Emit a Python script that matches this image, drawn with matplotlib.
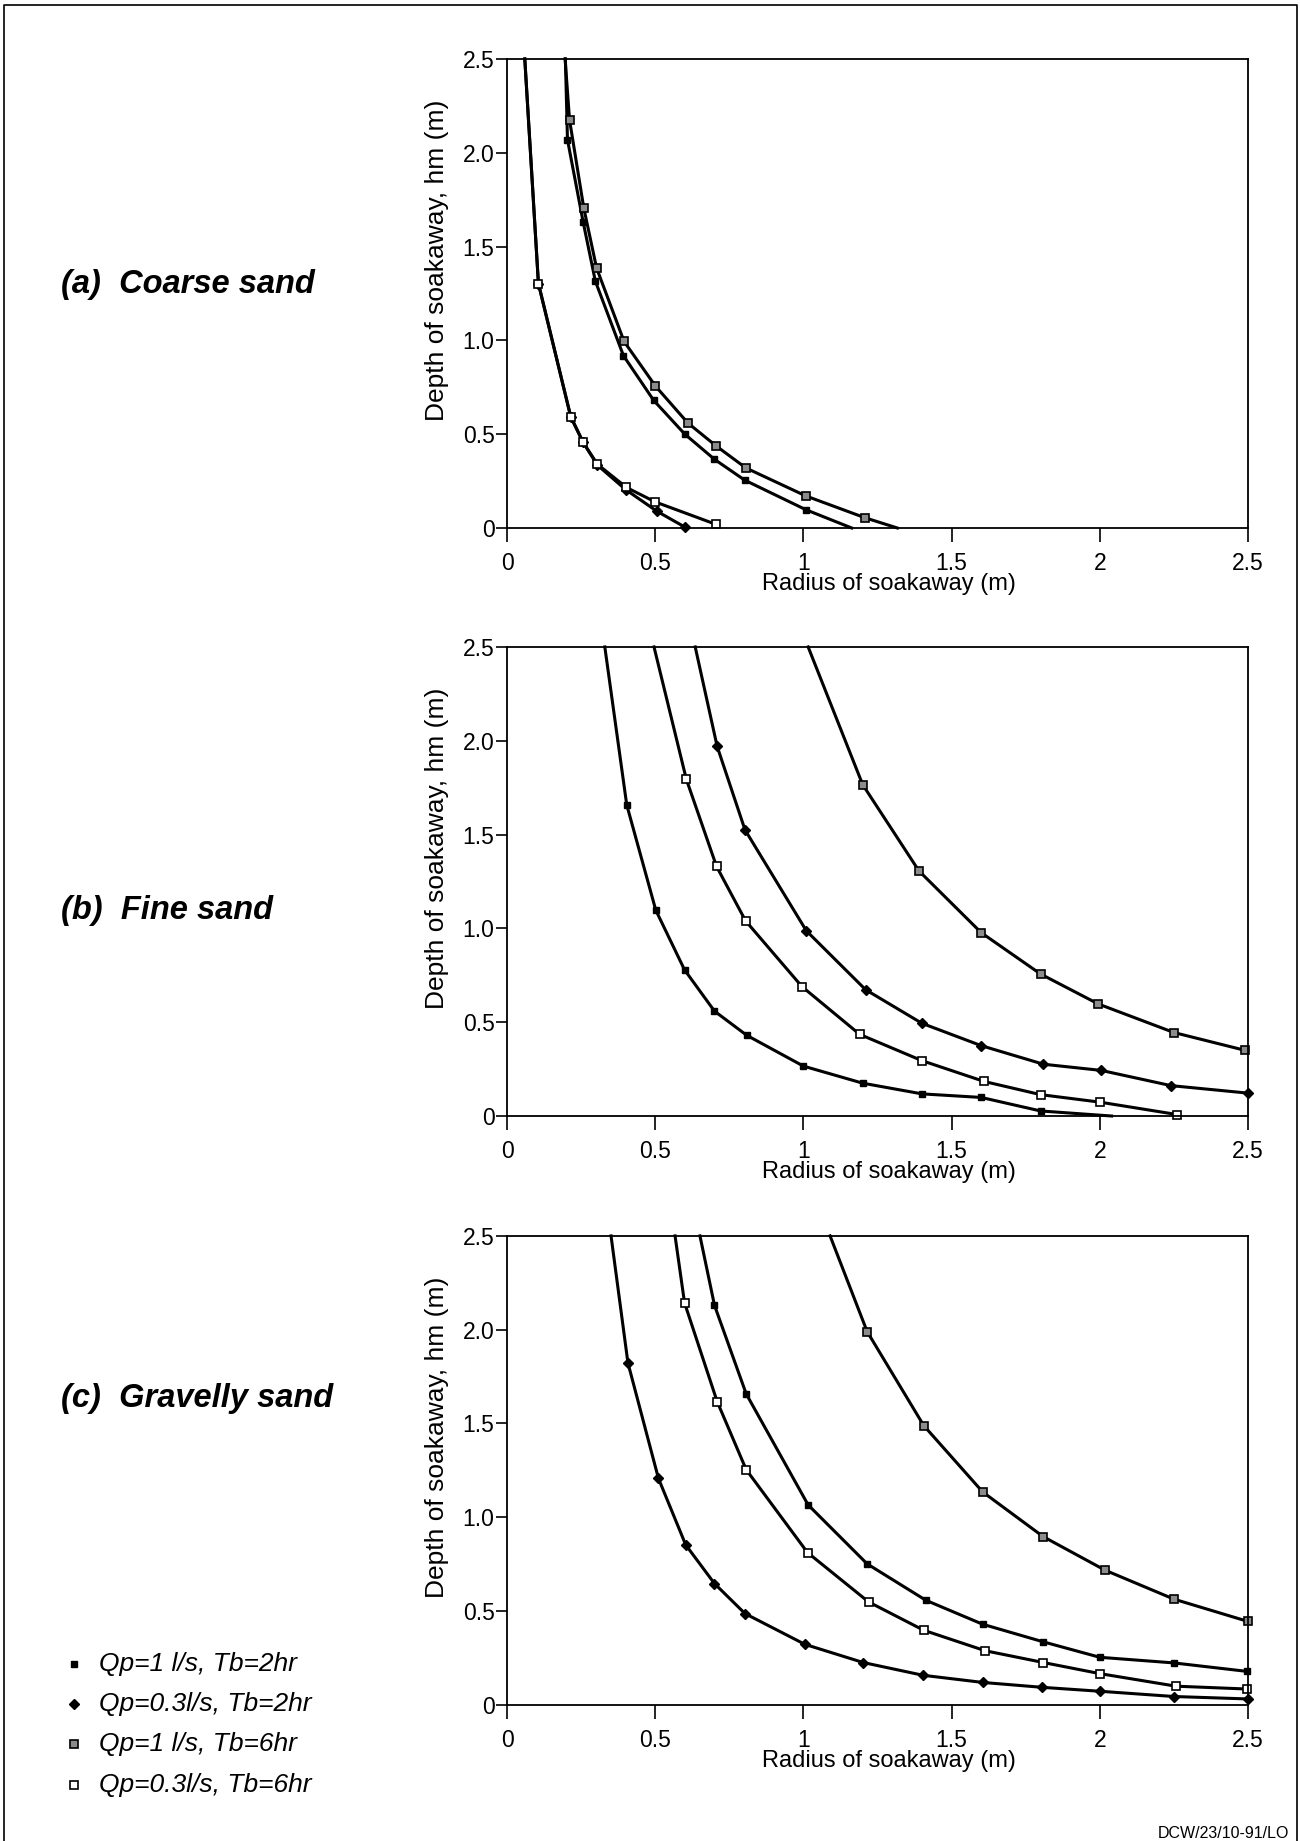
import matplotlib
matplotlib.use("Agg")
import matplotlib.pyplot as plt
from matplotlib.lines import Line2D

plt.rcParams['font.family'] = ['Liberation Sans', 'DejaVu Sans']

# series labels (legend order)
labels = ["Qp=1 l/s, Tb=2hr", "Qp=0.3l/s, Tb=2hr", "Qp=1 l/s, Tb=6hr", "Qp=0.3l/s, Tb=6hr"]

# (a) Coarse sand -- radius (m) / depth (m)
a_q1_t2_x = [0.197, 0.204, 0.257, 0.298, 0.393, 0.495, 0.600, 0.700, 0.802, 1.009, 1.163]
a_q1_t2_y = [2.5, 2.07, 1.63, 1.316, 0.918, 0.68, 0.50, 0.366, 0.255, 0.097, 0.0]
a_q03_t2_x = [0.06, 0.106, 0.215, 0.257, 0.305, 0.40, 0.505, 0.600]
a_q03_t2_y = [2.5, 1.303, 0.593, 0.456, 0.335, 0.205, 0.09, 0.005]
a_q1_t6_x = [0.196, 0.211, 0.259, 0.302, 0.395, 0.501, 0.61, 0.705, 0.806, 1.008, 1.207, 1.317]
a_q1_t6_y = [2.5, 2.175, 1.706, 1.387, 0.994, 0.756, 0.56, 0.438, 0.32, 0.171, 0.055, 0.0]
a_q03_t6_x = [0.06, 0.106, 0.215, 0.257, 0.305, 0.403, 0.50, 0.704]
a_q03_t6_y = [2.5, 1.303, 0.593, 0.456, 0.34, 0.216, 0.139, 0.02]

# (b) Fine sand
b_q1_t2_x = [0.33, 0.404, 0.502, 0.599, 0.70, 0.809, 1.0, 1.2, 1.40, 1.6, 1.8, 2.04]
b_q1_t2_y = [2.5, 1.658, 1.097, 0.779, 0.559, 0.43, 0.266, 0.175, 0.118, 0.099, 0.027, 0.0]
b_q03_t2_x = [0.635, 0.709, 0.803, 1.01, 1.21, 1.40, 1.60, 1.81, 2.005, 2.24, 2.50]
b_q03_t2_y = [2.5, 1.97, 1.525, 0.987, 0.673, 0.494, 0.375, 0.276, 0.243, 0.162, 0.122]
b_q1_t6_x = [1.016, 1.2, 1.39, 1.60, 1.80, 1.995, 2.25, 2.49]
b_q1_t6_y = [2.5, 1.766, 1.306, 0.977, 0.757, 0.597, 0.445, 0.35]
b_q03_t6_x = [0.496, 0.605, 0.707, 0.805, 0.995, 1.19, 1.40, 1.61, 1.80, 2.0, 2.26]
b_q03_t6_y = [2.5, 1.795, 1.33, 1.04, 0.69, 0.435, 0.295, 0.184, 0.114, 0.074, 0.008]

# (c) Gravelly sand
c_q1_t2_x = [0.651, 0.70, 0.807, 1.016, 1.215, 1.413, 1.605, 1.81, 2.0, 2.25, 2.496]
c_q1_t2_y = [2.5, 2.13, 1.658, 1.066, 0.752, 0.558, 0.43, 0.336, 0.254, 0.224, 0.179]
c_q03_t2_x = [0.351, 0.408, 0.511, 0.603, 0.70, 0.803, 1.005, 1.202, 1.404, 1.605, 1.805, 2.0, 2.25, 2.5]
c_q03_t2_y = [2.5, 1.823, 1.207, 0.853, 0.647, 0.487, 0.323, 0.226, 0.158, 0.12, 0.094, 0.073, 0.045, 0.032]
c_q1_t6_x = [1.09, 1.215, 1.406, 1.605, 1.809, 2.018, 2.25, 2.5]
c_q1_t6_y = [2.5, 1.99, 1.489, 1.135, 0.897, 0.718, 0.564, 0.445]
c_q03_t6_x = [0.567, 0.599, 0.709, 0.807, 1.014, 1.22, 1.406, 1.613, 1.81, 2.0, 2.257, 2.495]
c_q03_t6_y = [2.5, 2.143, 1.617, 1.254, 0.812, 0.549, 0.398, 0.289, 0.226, 0.167, 0.10, 0.085]

xticks = [0, 0.5, 1, 1.5, 2, 2.5]
xticklabels = ["0", "0.5", "1", "1.5", "2", "2.5"]
yticks = [0, 0.5, 1.0, 1.5, 2.0, 2.5]
yticklabels = ["0", "0.5", "1.0", "1.5", "2.0", "2.5"]

# marker per series (same order as labels)
marks = [
    dict(marker='s', ms=4.5, mfc='black', mec='black'),
    dict(marker='D', ms=5, mfc='black', mec='black'),
    dict(marker='s', ms=5.5, mfc='0.55', mec='black', mew=1.2),
    dict(marker='s', ms=5.5, mfc='white', mec='black', mew=1.2),
]

panels = [
    ("(a)  Coarse sand", 0.8452, 0.7132,
     [(a_q1_t2_x, a_q1_t2_y), (a_q03_t2_x, a_q03_t2_y), (a_q1_t6_x, a_q1_t6_y), (a_q03_t6_x, a_q03_t6_y)]),
    ("(b)  Fine sand", 0.5055, 0.3938,
     [(b_q1_t2_x, b_q1_t2_y), (b_q03_t2_x, b_q03_t2_y), (b_q1_t6_x, b_q1_t6_y), (b_q03_t6_x, b_q03_t6_y)]),
    ("(c)  Gravelly sand", 0.2405, 0.0739,
     [(c_q1_t2_x, c_q1_t2_y), (c_q03_t2_x, c_q03_t2_y), (c_q1_t6_x, c_q1_t6_y), (c_q03_t6_x, c_q03_t6_y)]),
]

fig = plt.figure(figsize=(13, 18.41), dpi=100)

for title, ty, bottom, series in panels:
    ax = fig.add_axes([0.390, bottom, 0.570, 0.2548])
    for (xs, ys), mk in zip(series, marks):
        # markers only on the computed points, not where the curve leaves the box
        idx = [i for i, v in enumerate(ys) if 0 < v < 2.5]
        ax.plot(xs, ys, color='black', lw=2.2, markevery=idx, clip_on=False, **mk)
    ax.set_xlim(0, 2.5)
    ax.set_ylim(0, 2.5)
    ax.set_xticks(xticks)
    ax.set_xticklabels(xticklabels)
    ax.set_yticks(yticks)
    ax.set_yticklabels(yticklabels)
    ax.tick_params(axis='x', direction='out', length=10, width=1.2, pad=7, labelsize=16.5)
    ax.tick_params(axis='y', direction='out', length=8, width=1.2, pad=1, labelsize=16.5)
    for sp in ax.spines.values():
        sp.set_linewidth(1.3)
    ax.set_xlabel("Radius of soakaway (m)", fontsize=17)
    ax.xaxis.set_label_coords(0.515, -0.095)
    ax.set_ylabel("Depth of soakaway, hm (m)", fontsize=19)
    ax.yaxis.set_label_coords(-0.078, 0.57)
    fig.text(0.047, ty, title, fontsize=23.5, fontweight='bold', fontstyle='italic', va='center')

# legend in the lower left corner
leg_y = [1664, 1704, 1744, 1785]
for lab, mk, yp in zip(labels, marks, leg_y):
    yf = 1 - yp / 1841
    fig.add_artist(Line2D([0.057], [yf], transform=fig.transFigure, linestyle='none', **mk))
    fig.text(0.076, yf, lab, fontsize=19, fontstyle='italic', va='center')

# outer frame (open at the bottom)
fig.add_artist(Line2D([0.003, 0.003, 0.998, 0.998], [-0.01, 0.9973, 0.9973, -0.01],
                      transform=fig.transFigure, color='black', lw=1.2))

fig.text(0.992, 1 - 1834 / 1841, "DCW/23/10-91/LO", fontsize=11.5, ha='right', va='center')

fig.savefig("out.png", dpi=100)
